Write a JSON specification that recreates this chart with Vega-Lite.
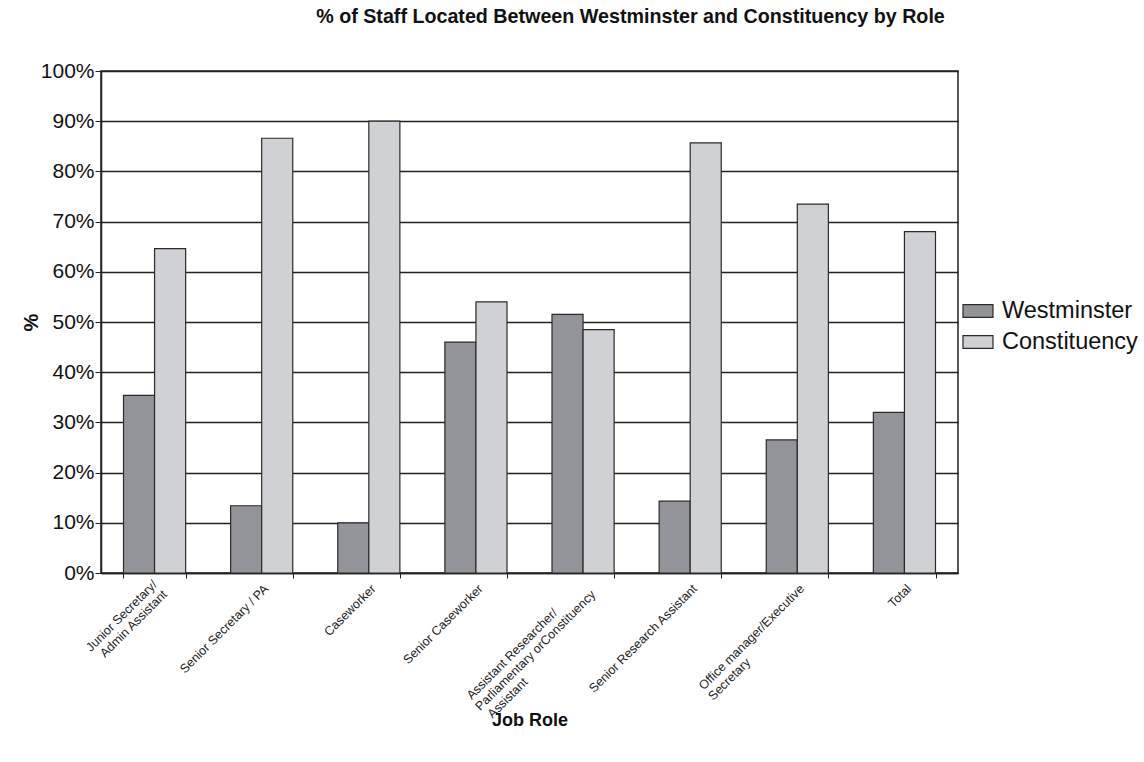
{
  "$schema": "https://vega.github.io/schema/vega-lite/v6.json",
  "autosize": {"type": "none"},
  "width": 857,
  "height": 502,
  "padding": {"left": 101, "top": 71, "right": 186, "bottom": 189},
  "background": "white",
  "config": {
    "font": "Liberation Sans",
    "view": {"stroke": "#222", "strokeWidth": 1.5}
  },
  "title": {
    "text": "% of Staff Located Between Westminster and Constituency by Role",
    "fontSize": 19.7,
    "fontWeight": "bold",
    "color": "#111",
    "anchor": "middle",
    "frame": "group",
    "dx": 101,
    "offset": 33
  },
  "data": {
    "values": [
      {"role": "Junior Secretary/Admin Assistant", "location": "Westminster", "pct": 35.4},
      {"role": "Junior Secretary/Admin Assistant", "location": "Constituency", "pct": 64.6},
      {"role": "Senior Secretary / PA", "location": "Westminster", "pct": 13.4},
      {"role": "Senior Secretary / PA", "location": "Constituency", "pct": 86.6},
      {"role": "Caseworker", "location": "Westminster", "pct": 10.0},
      {"role": "Caseworker", "location": "Constituency", "pct": 90.0},
      {"role": "Senior Caseworker", "location": "Westminster", "pct": 46.0},
      {"role": "Senior Caseworker", "location": "Constituency", "pct": 54.0},
      {"role": "Assistant Researcher/Parliamentary orConstituency Assistant", "location": "Westminster", "pct": 51.5},
      {"role": "Assistant Researcher/Parliamentary orConstituency Assistant", "location": "Constituency", "pct": 48.5},
      {"role": "Senior Research Assistant", "location": "Westminster", "pct": 14.3},
      {"role": "Senior Research Assistant", "location": "Constituency", "pct": 85.7},
      {"role": "Office manager/Executive Secretary", "location": "Westminster", "pct": 26.5},
      {"role": "Office manager/Executive Secretary", "location": "Constituency", "pct": 73.5},
      {"role": "Total", "location": "Westminster", "pct": 32.0},
      {"role": "Total", "location": "Constituency", "pct": 68.0}
    ]
  },
  "mark": {"type": "bar", "stroke": "#2a2a2a", "strokeWidth": 1.2},
  "encoding": {
    "x": {
      "field": "role",
      "type": "nominal",
      "sort": null,
      "scale": {"paddingInner": 0.42, "paddingOuter": 0.21},
      "axis": {
        "title": "Job Role",
        "titleFontSize": 18,
        "titleFontWeight": "bold",
        "titleColor": "#111",
        "titleY": 147,
        "titleBaseline": "middle",
        "labelAngle": -45,
        "labelAlign": "right",
        "labelBaseline": {
          "condition": {
            "test": "datum.value == 'Junior Secretary/Admin Assistant' || datum.value == 'Assistant Researcher/Parliamentary orConstituency Assistant'",
            "value": "middle"
          },
          "value": "top"
        },
        "labelFontSize": 12.5,
        "labelColor": "#222",
        "labelLineHeight": 14,
        "labelPadding": 4,
        "labelLimit": 400,
        "labelOverlap": false,
        "labelExpr": "datum.value == 'Junior Secretary/Admin Assistant' ? ['Junior Secretary/', 'Admin Assistant'] : datum.value == 'Assistant Researcher/Parliamentary orConstituency Assistant' ? ['Assistant Researcher/\u2800\u2800\u2800\u2800', 'Parliamentary orConstituency', 'Assistant\u2800\u2800\u2800\u2800\u2800\u2800\u2800\u2800\u2800\u2800\u2800'] : datum.value == 'Office manager/Executive Secretary' ? ['Office manager/Executive', 'Secretary\u2800\u2800\u2800\u2800\u2800\u2800\u2800\u2800\u2800'] : datum.value",
        "domainColor": "#222",
        "domainWidth": 1.5,
        "tickColor": "#222",
        "tickSize": 5,
        "tickBand": "extent",
        "grid": false
      }
    },
    "xOffset": {"field": "location", "type": "nominal", "sort": ["Westminster", "Constituency"]},
    "y": {
      "field": "pct",
      "type": "quantitative",
      "scale": {"domain": [0, 100], "nice": false},
      "axis": {
        "title": "%",
        "titleFontSize": 20,
        "titleFontWeight": "bold",
        "titleColor": "#111",
        "titleX": -70,
        "titleBaseline": "middle",
        "values": [0, 10, 20, 30, 40, 50, 60, 70, 80, 90, 100],
        "labelExpr": "datum.value + '%'",
        "labelFontSize": 21,
        "labelColor": "#111",
        "labelPadding": 1,
        "tickSize": 6,
        "tickColor": "#222",
        "domainColor": "#222",
        "domainWidth": 1.5,
        "gridColor": "#222",
        "gridWidth": 1.5,
        "gridOpacity": 1
      }
    },
    "color": {
      "field": "location",
      "type": "nominal",
      "sort": ["Westminster", "Constituency"],
      "scale": {"domain": ["Westminster", "Constituency"], "range": ["#939499", "#d0d1d5"]},
      "legend": {
        "title": null,
        "orient": "none",
        "legendX": 861,
        "legendY": 224,
        "symbolType": "M-1,-0.43L1,-0.43L1,0.43L-1,0.43Z",
        "symbolSize": 900,
        "symbolStrokeColor": "#2a2a2a",
        "symbolStrokeWidth": 1.2,
        "labelFontSize": 23.5,
        "labelColor": "#111",
        "labelOffset": 8,
        "rowPadding": 3,
        "padding": 0
      }
    }
  }
}
